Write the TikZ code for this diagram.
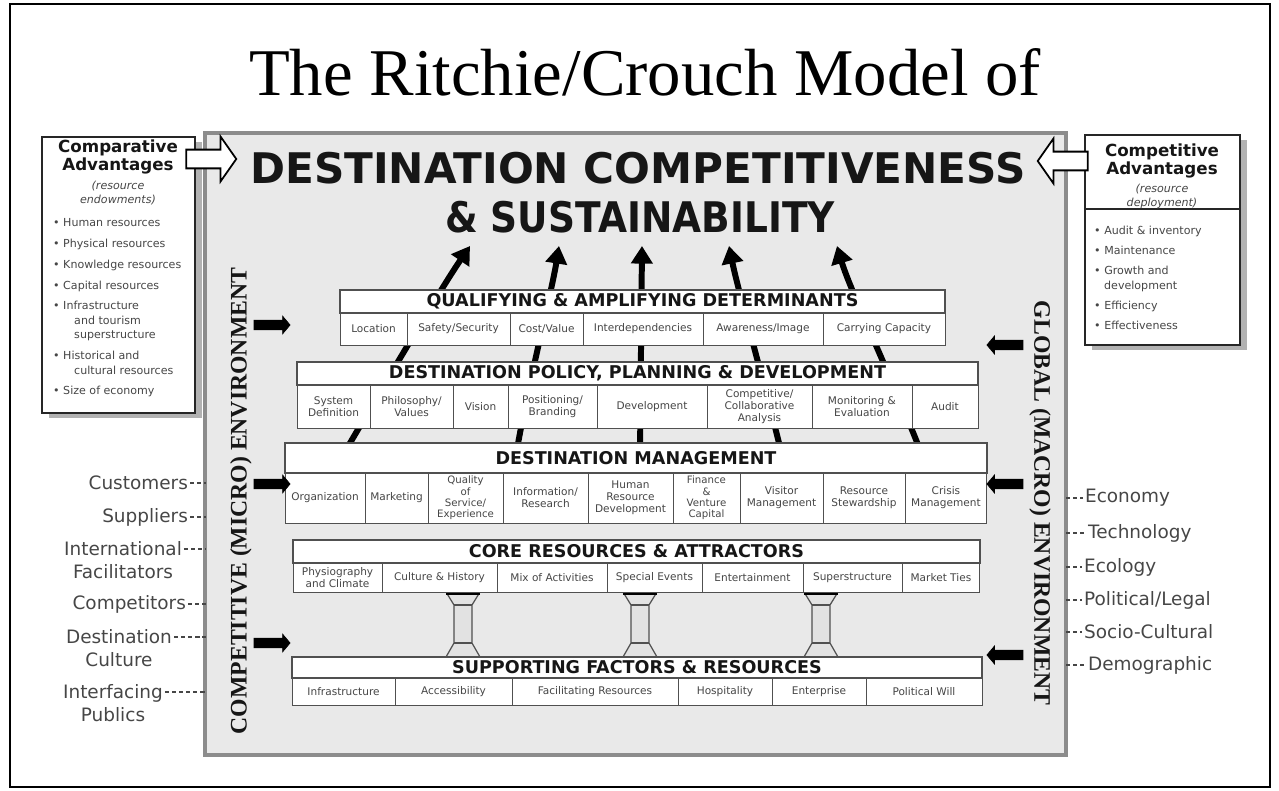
\documentclass[tikz,border=0pt]{standalone}
\usepackage{fontspec}
\setmainfont{Liberation Serif}
\setsansfont{DejaVu Sans}
\usetikzlibrary{arrows.meta, shapes.arrows, positioning, fit, shadows}
\definecolor{cPanel}{RGB}{233, 233, 233}
\definecolor{bPanel}{RGB}{140, 140, 140}
\definecolor{bRow}{RGB}{80, 80, 80}
\definecolor{tDark}{RGB}{22, 22, 22}
\definecolor{tGray}{RGB}{70, 70, 70}
\definecolor{cPillar}{RGB}{226, 226, 226}

\begin{document}
\begin{tikzpicture}[
    x=0.02cm, y=-0.02cm,
    font=\sffamily,
    panel/.style={draw=bPanel, fill=cPanel, line width=2.5pt, inner sep=0pt},
    hdr/.style={
        draw=bRow, fill=white, line width=0.8pt, inner sep=0pt, outer sep=0pt,
        font=\sffamily\bfseries\fontsize{10}{12}\selectfont, text=tDark
    },
    cell/.style={
        draw=bRow, fill=white, line width=0.5pt, inner sep=0pt, outer sep=0pt,
        minimum height=#1, align=center,
        font=\sffamily\fontsize{6}{6.8}\selectfont, text=tGray
    },
    sidebox/.style={
        draw=black!85, fill=white, line width=1.2pt, inner sep=0pt,
        general shadow={fill=gray!60, shadow xshift=4pt, shadow yshift=-3pt}
    },
    hollow/.style={
        single arrow, draw=black, fill=white, line width=1pt,
        minimum height=1cm, inner ysep=0.17cm, inner xsep=0pt,
        single arrow head extend=0.26cm, single arrow tip angle=110
    },
    sidearrow/.style={
        single arrow, fill=black, draw=black, minimum height=0.72cm,
        inner ysep=0.09cm, inner xsep=0pt,
        single arrow head extend=0.08cm, single arrow tip angle=100
    },
    bigarrow/.style={-{Triangle[length=10pt, width=12pt]}, line width=3.4pt, color=black},
    extlabel/.style={font=\sffamily\fontsize{10.5}{13}\selectfont, text=tGray, align=center, inner sep=1pt},
    dashline/.style={draw=tGray, line width=0.6pt, dash pattern=on 2.5pt off 1.5pt},
    envlabel/.style={font=\rmfamily\bfseries\fontsize{13.5}{16}\selectfont, text=tDark},
    pillar/.style={draw=bRow, fill=cPillar, line width=0.7pt, line join=round}
]
\useasboundingbox (0,0) rectangle (1279,791);
\draw[line width=1.5pt] (10,4) rectangle (1270,787);

\node[font=\rmfamily\fontsize{38}{44}\selectfont, anchor=base] (title) at (645,95) {The Ritchie/Crouch Model of};

% panel behind the model
\node[panel, fit={(205,133) (1066,755)}] (panel) {};

\node[font=\sffamily\bfseries\fontsize{24}{28}\selectfont, text=tDark, anchor=base] (dcs1) at (638,183) {DESTINATION COMPETITIVENESS};
\node[font=\sffamily\bfseries\fontsize{24}{28}\selectfont, text=tDark, anchor=base] (dcs2) at (640,232) {\scalebox{0.89}[1]{\& SUSTAINABILITY}};

% arrows up to the goal
\coordinate (s1) at (343,455); \coordinate (t1) at (470,246);
\coordinate (s2) at (516,455); \coordinate (t2) at (559,246);
\coordinate (s3) at (640,455); \coordinate (t3) at (642,246);
\coordinate (s4) at (782,455); \coordinate (t4) at (729,246);
\coordinate (s5) at (922,455); \coordinate (t5) at (837,246);
\draw[bigarrow] (s1) .. controls (390,375) and (440,290) .. (t1);
\draw[bigarrow] (s2) .. controls (528,385) and (552,290) .. (t2);
\draw[bigarrow] (s3) -- (t3);
\draw[bigarrow] (s4) .. controls (764,382) and (738,290) .. (t4);
\draw[bigarrow] (s5) .. controls (895,385) and (850,290) .. (t5);

% pillars
\draw[pillar] (446,592) -- (480,592) -- (472,605) -- (472,643) -- (480,657) -- (446,657) -- (454,643) -- (454,605) -- cycle;
\draw[pillar] (454,605) -- (472,605) (454,643) -- (472,643);
\draw[line width=2.5pt] (446,593) -- (480,593);
\draw[pillar] (623,592) -- (657,592) -- (649,605) -- (649,643) -- (657,657) -- (623,657) -- (631,643) -- (631,605) -- cycle;
\draw[pillar] (631,605) -- (649,605) (631,643) -- (649,643);
\draw[line width=2.5pt] (623,593) -- (657,593);
\draw[pillar] (804,592) -- (838,592) -- (830,605) -- (830,643) -- (838,657) -- (804,657) -- (812,643) -- (812,605) -- cycle;
\draw[pillar] (812,605) -- (830,605) (812,643) -- (830,643);
\draw[line width=2.5pt] (804,593) -- (838,593);

% Qualifying & Amplifying Determinants
\node[hdr, minimum width=12.1cm, minimum height=0.46cm] (qad) at (642.5,301.5) {QUALIFYING \& AMPLIFYING DETERMINANTS};
\node[cell=0.64cm, minimum width=1.34cm, anchor=north west] (qad1) at (qad.south west) {Location};
\node[cell=0.64cm, minimum width=2.06cm, right=0pt of qad1] (qad2) {Safety/Security};
\node[cell=0.64cm, minimum width=1.46cm, right=0pt of qad2] (qad3) {Cost/Value};
\node[cell=0.64cm, minimum width=2.4cm, right=0pt of qad3] (qad4) {Interdependencies};
\node[cell=0.64cm, minimum width=2.4cm, right=0pt of qad4] (qad5) {Awareness/Image};
\node[cell=0.64cm, minimum width=2.44cm, right=0pt of qad5] (qad6) {Carrying Capacity};

% Destination Policy, Planning & Development
\node[hdr, minimum width=13.62cm, minimum height=0.46cm] (dpp) at (637.5,373.5) {DESTINATION POLICY, PLANNING \& DEVELOPMENT};
\node[cell=0.86cm, minimum width=1.46cm, anchor=north west] (dpp1) at (dpp.south west) {System\\Definition};
\node[cell=0.86cm, minimum width=1.66cm, right=0pt of dpp1] (dpp2) {Philosophy/\\Values};
\node[cell=0.86cm, minimum width=1.1cm, right=0pt of dpp2] (dpp3) {Vision};
\node[cell=0.86cm, minimum width=1.78cm, right=0pt of dpp3] (dpp4) {Positioning/\\Branding};
\node[cell=0.86cm, minimum width=2.2cm, right=0pt of dpp4] (dpp5) {Development};
\node[cell=0.86cm, minimum width=2.1cm, right=0pt of dpp5] (dpp6) {Competitive/\\Collaborative\\Analysis};
\node[cell=0.86cm, minimum width=2.0cm, right=0pt of dpp6] (dpp7) {Monitoring \&\\Evaluation};
\node[cell=0.86cm, minimum width=1.32cm, right=0pt of dpp7] (dpp8) {Audit};

% Destination Management
\node[hdr, minimum width=14.04cm, minimum height=0.6cm] (dm) at (636,458) {DESTINATION MANAGEMENT};
\node[cell=1.0cm, minimum width=1.6cm, anchor=north west] (dm1) at (dm.south west) {Organization};
\node[cell=1.0cm, minimum width=1.26cm, right=0pt of dm1] (dm2) {Marketing};
\node[cell=1.0cm, minimum width=1.5cm, right=0pt of dm2, font=\sffamily\fontsize{5.8}{6.4}\selectfont] (dm3) {Quality\\of\\Service/\\Experience};
\node[cell=1.0cm, minimum width=1.7cm, right=0pt of dm3] (dm4) {Information/\\Research};
\node[cell=1.0cm, minimum width=1.7cm, right=0pt of dm4] (dm5) {Human\\Resource\\Development};
\node[cell=1.0cm, minimum width=1.34cm, right=0pt of dm5, font=\sffamily\fontsize{5.8}{6.4}\selectfont] (dm6) {Finance\\\&\\Venture\\Capital};
\node[cell=1.0cm, minimum width=1.66cm, right=0pt of dm6] (dm7) {Visitor\\Management};
\node[cell=1.0cm, minimum width=1.64cm, right=0pt of dm7] (dm8) {Resource\\Stewardship};
\node[cell=1.0cm, minimum width=1.64cm, right=0pt of dm8] (dm9) {Crisis\\Management};

% Core Resources & Attractors
\node[hdr, minimum width=13.74cm, minimum height=0.46cm] (cra) at (636.5,551.5) {CORE RESOURCES \& ATTRACTORS};
\node[cell=0.58cm, minimum width=1.78cm, anchor=north west] (cra1) at (cra.south west) {Physiography\\and Climate};
\node[cell=0.58cm, minimum width=2.3cm, right=0pt of cra1] (cra2) {Culture \& History};
\node[cell=0.58cm, minimum width=2.2cm, right=0pt of cra2] (cra3) {Mix of Activities};
\node[cell=0.58cm, minimum width=1.9cm, right=0pt of cra3] (cra4) {Special Events};
\node[cell=0.58cm, minimum width=2.02cm, right=0pt of cra4] (cra5) {Entertainment};
\node[cell=0.58cm, minimum width=1.98cm, right=0pt of cra5] (cra6) {Superstructure};
\node[cell=0.58cm, minimum width=1.56cm, right=0pt of cra6] (cra7) {Market Ties};

% Supporting Factors & Resources
\node[hdr, minimum width=13.8cm, minimum height=0.42cm] (sfr) at (637,667.5) {SUPPORTING FACTORS \& RESOURCES};
\node[cell=0.54cm, minimum width=2.06cm, anchor=north west] (sfr1) at (sfr.south west) {Infrastructure};
\node[cell=0.54cm, minimum width=2.34cm, right=0pt of sfr1] (sfr2) {Accessibility};
\node[cell=0.54cm, minimum width=3.32cm, right=0pt of sfr2] (sfr3) {Facilitating Resources};
\node[cell=0.54cm, minimum width=1.88cm, right=0pt of sfr3] (sfr4) {Hospitality};
\node[cell=0.54cm, minimum width=1.88cm, right=0pt of sfr4] (sfr5) {Enterprise};
\node[cell=0.54cm, minimum width=2.32cm, right=0pt of sfr5] (sfr6) {Political Will};

% environments
\node[envlabel, rotate=90] (micro) at (241,501) {COMPETITIVE (MICRO) ENVIRONMENT};
\node[envlabel, rotate=-90] (macro) at (1040,503) {GLOBAL (MACRO) ENVIRONMENT};

\node[sidearrow] (la1) at (270,325) {};
\node[sidearrow] (la2) at (270,484) {};
\node[sidearrow] (la3) at (270,643) {};
\node[sidearrow, shape border rotate=180] (ra1) at (1007,345) {};
\node[sidearrow, shape border rotate=180] (ra2) at (1007,484) {};
\node[sidearrow, shape border rotate=180] (ra3) at (1007,655) {};

% Comparative advantages
\node[sidebox, fit={(42,137) (195,413)}] (cbox) {};
\node[font=\sffamily\bfseries\fontsize{9.5}{10.5}\selectfont, text=tDark, align=center] (ctitle) at (118,157) {Comparative\\Advantages};
\node[font=\sffamily\itshape\fontsize{6.3}{8}\selectfont, text=tGray, align=center] (csub) at (118,193) {(resource\\endowments)};
\node[anchor=north west, font=\sffamily\fontsize{6.3}{8.2}\selectfont, text=tGray, align=left] (clist) at (47,212) {
    •\ Human resources\\[3.7pt]
    •\ Physical resources\\[3.7pt]
    •\ Knowledge resources\\[3.7pt]
    •\ Capital resources\\[3.7pt]
    •\ Infrastructure\\
    \hspace*{1.9em}and tourism\\
    \hspace*{1.9em}superstructure\\[3.7pt]
    •\ Historical and\\
    \hspace*{1.9em}cultural resources\\[3.7pt]
    •\ Size of economy
};

% Competitive advantages
\node[sidebox, fit={(1085,135) (1240,345)}] (kbox) {};
\coordinate (kdiv) at (1160,209);
\draw[black!85, line width=0.8pt] (kdiv -| kbox.west) -- (kdiv -| kbox.east);
\node[font=\sffamily\bfseries\fontsize{9.5}{10.5}\selectfont, text=tDark, align=center] (ktitle) at (1162,161) {Competitive\\Advantages};
\node[font=\sffamily\itshape\fontsize{6.3}{8}\selectfont, text=tGray, align=center] (ksub) at (1162,196) {(resource\\deployment)};
\node[anchor=north west, font=\sffamily\fontsize{6.3}{8.2}\selectfont, text=tGray, align=left] (klist) at (1088,220) {
    •\ Audit \& inventory\\[3.2pt]
    •\ Maintenance\\[3.2pt]
    •\ Growth and\\
    \hspace*{0.9em}development\\[3.2pt]
    •\ Efficiency\\[3.2pt]
    •\ Effectiveness
};

\node[hollow] (carr) at (208,159) {};
\node[hollow, shape border rotate=180] (karr) at (1066,161) {};

% micro environment players
\node[extlabel, anchor=east] (cust) at (190,483) {Customers};
\node[extlabel, anchor=east] (supp) at (190,517) {Suppliers};
\node[extlabel] (intl) at (123,560) {International\\Facilitators};
\node[extlabel, anchor=east] (comp) at (188,604) {Competitors};
\node[extlabel] (dest) at (119,648) {Destination\\Culture};
\node[extlabel] (ipub) at (113,703) {Interfacing\\Publics};
\coordinate (lcust) at (206,483);
\coordinate (lsupp) at (206,517);
\coordinate (lintl) at (206,549);
\coordinate (lcomp) at (206,604);
\coordinate (ldest) at (206,637);
\coordinate (lipub) at (206,692);
\draw[dashline] (lcust -| cust.east) -- (lcust);
\draw[dashline] (lsupp -| supp.east) -- (lsupp);
\draw[dashline] (lintl -| intl.east) -- (lintl);
\draw[dashline] (lcomp -| comp.east) -- (lcomp);
\draw[dashline] (ldest -| dest.east) -- (ldest);
\draw[dashline] (lipub -| ipub.east) -- (lipub);

% macro environment forces
\node[extlabel, anchor=west] (econ) at (1083,498) {Economy};
\node[extlabel, anchor=west] (tech) at (1086,533) {Technology};
\node[extlabel, anchor=west] (ecol) at (1082,567) {Ecology};
\node[extlabel, anchor=west] (poli) at (1082,600) {Political/Legal};
\node[extlabel, anchor=west] (soci) at (1082,632) {Socio-Cultural};
\node[extlabel, anchor=west] (demo) at (1086,665) {Demographic};
\coordinate (recon) at (1066,498);
\coordinate (rtech) at (1066,533);
\coordinate (recol) at (1066,567);
\coordinate (rpoli) at (1066,600);
\coordinate (rsoci) at (1066,632);
\coordinate (rdemo) at (1066,665);
\draw[dashline] (recon) -- (recon -| econ.west);
\draw[dashline] (rtech) -- (rtech -| tech.west);
\draw[dashline] (recol) -- (recol -| ecol.west);
\draw[dashline] (rpoli) -- (rpoli -| poli.west);
\draw[dashline] (rsoci) -- (rsoci -| soci.west);
\draw[dashline] (rdemo) -- (rdemo -| demo.west);

\end{tikzpicture}
\end{document}
